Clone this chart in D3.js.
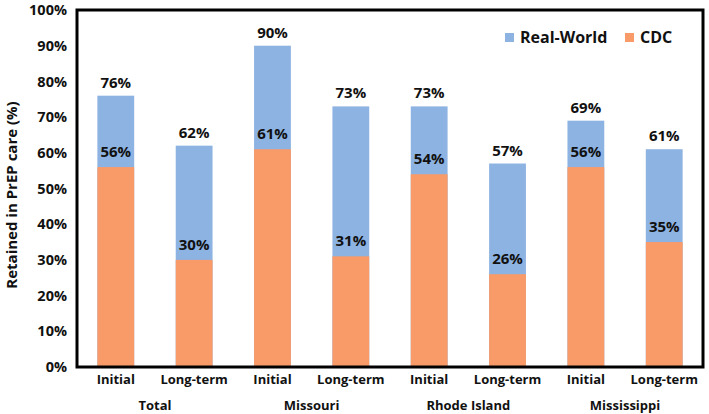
<!DOCTYPE html>
<html>
<head>
<meta charset="utf-8">
<script src="https://cdn.jsdelivr.net/npm/d3@7"></script>
<style>
  body { margin: 0; background: #fff; }
  text { font-family: "Open Sans", Lato, sans-serif; font-weight: 700; fill: #111; }
</style>
</head>
<body>
<svg id="chart" width="709" height="414"></svg>
<script>
// data
const groups = ["Total", "Missouri", "Rhode Island", "Mississippi"];
const phases = ["Initial", "Long-term"];
const realWorld = [76, 62, 90, 73, 73, 57, 69, 61];
const cdc = [56, 30, 61, 31, 54, 26, 56, 35];
const yTicks = [0, 10, 20, 30, 40, 50, 60, 70, 80, 90, 100];

const blue = "#8db3e2";
const orange = "#f99b69";

const svg = d3.select("#chart");
const margin = { top: 10, right: 6, bottom: 47, left: 77 };
const width = 709 - margin.left - margin.right;
const height = 414 - margin.top - margin.bottom;

const bars = realWorld.map((v, i) => ({
  key: i,
  group: groups[Math.floor(i / 2)],
  phase: phases[i % 2],
  real: v,
  cdc: cdc[i]
}));

const x = d3.scaleBand()
  .domain(bars.map(d => d.key))
  .range([0, width])
  .paddingInner(0.53)
  .paddingOuter(0.26);

const y = d3.scaleLinear().domain([0, 100]).range([height, 0]);

const g = svg.append("g").attr("transform", `translate(${margin.left},${margin.top})`);

// real-world bars (full height), then CDC on top of them from zero
g.selectAll("rect.real").data(bars).join("rect")
  .attr("class", "real")
  .attr("x", d => x(d.key))
  .attr("width", x.bandwidth())
  .attr("y", d => y(d.real))
  .attr("height", d => y(0) - y(d.real))
  .attr("fill", blue);

g.selectAll("rect.cdc").data(bars).join("rect")
  .attr("class", "cdc")
  .attr("x", d => x(d.key))
  .attr("width", x.bandwidth())
  .attr("y", d => y(d.cdc))
  .attr("height", d => y(0) - y(d.cdc))
  .attr("fill", orange);

// value labels
g.selectAll("text.real-lbl").data(bars).join("text")
  .attr("class", "real-lbl")
  .attr("x", d => x(d.key) + x.bandwidth() / 2)
  .attr("y", d => y(d.real) - 8)
  .attr("text-anchor", "middle")
  .style("font-size", "15px")
  .text(d => d.real + "%");

g.selectAll("text.cdc-lbl").data(bars).join("text")
  .attr("class", "cdc-lbl")
  .attr("x", d => x(d.key) + x.bandwidth() / 2)
  .attr("y", d => y(d.cdc) - 10)
  .attr("text-anchor", "middle")
  .style("font-size", "15px")
  .text(d => d.cdc + "%");

// y axis
const yAxis = g.append("g")
  .call(d3.axisLeft(y).tickValues(yTicks).tickFormat(d => d + "%").tickSize(0).tickPadding(10));
yAxis.select(".domain").remove();
yAxis.selectAll("text")
  .style("font-size", "14.5px")
  .style("font-family", "\"Open Sans\", Lato, sans-serif")
  .style("font-weight", 700)
  .attr("fill", "#111");

// x axis: phase labels and group labels
const xAxis = g.append("g")
  .attr("transform", `translate(0,${height})`)
  .call(d3.axisBottom(x).tickFormat(i => bars[i].phase).tickSize(0).tickPadding(8));
xAxis.select(".domain").remove();
xAxis.selectAll("text")
  .style("font-size", "13px")
  .style("font-family", "\"Open Sans\", Lato, sans-serif")
  .style("font-weight", 700)
  .attr("fill", "#111");

g.selectAll("text.group").data(groups).join("text")
  .attr("class", "group")
  .attr("x", (d, i) => (x(i * 2) + x(i * 2 + 1) + x.bandwidth()) / 2)
  .attr("y", height + 43)
  .attr("text-anchor", "middle")
  .style("font-size", "13px")
  .text(d => d);

// frame
g.append("rect")
  .attr("x", 0).attr("y", 0)
  .attr("width", width).attr("height", height)
  .attr("fill", "none")
  .attr("stroke", "#000")
  .attr("stroke-width", 3);

// y axis title
svg.append("text")
  .attr("transform", "translate(17,195) rotate(-90)")
  .attr("text-anchor", "middle")
  .style("font-size", "15px")
  .text("Retained in PrEP care (%)");

// legend
const legend = svg.append("g").attr("transform", "translate(505,33)");
const items = [{ name: "Real-World", color: blue, dx: 0 }, { name: "CDC", color: orange, dx: 120 }];
const li = legend.selectAll("g").data(items).join("g")
  .attr("transform", d => `translate(${d.dx},0)`);
li.append("rect").attr("width", 9).attr("height", 9).attr("fill", d => d.color);
li.append("text")
  .attr("x", 15).attr("y", 10)
  .style("font-size", "16px")
  .text(d => d.name);
</script>
</body>
</html>
